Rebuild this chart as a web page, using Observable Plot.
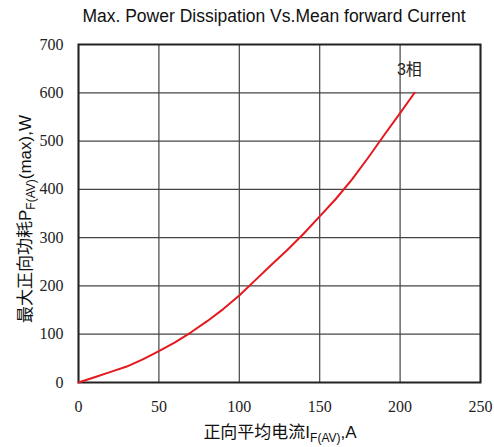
<!DOCTYPE html>
<html>
<head>
<meta charset="utf-8">
<script src="https://cdn.jsdelivr.net/npm/d3@7"></script>
<script src="https://cdn.jsdelivr.net/npm/@observablehq/plot@0.6"></script>
<style>
  html, body { margin: 0; padding: 0; background: #fff; }
  #title {
    width: 494px; box-sizing: border-box; padding-left: 54px;
    height: 34px; line-height: 33px; text-align: center;
    font-family: "Liberation Sans", Arial, sans-serif; font-size: 17.5px; color: #111;
  }
  #chart svg { display: block; }
</style>
</head>
<body>
<div id="title">Max. Power Dissipation Vs.Mean forward Current</div>
<div id="chart"></div>
<script>
// Data
const current = [0, 10, 20, 30, 40, 50, 60, 70, 80, 90, 100, 110, 120, 130, 140, 150, 160, 170, 180, 190, 200, 209];
const power   = [0, 11, 22, 33, 48, 65, 83, 104, 127, 152, 180, 212, 244, 275, 308, 344, 380, 420, 465, 512, 558, 600];
const xTicks = [0, 50, 100, 150, 200, 250];
const yTicks = [0, 100, 200, 300, 400, 500, 600, 700];
const seriesLabel = ["3相"];
const labelX = [198];
const labelY = [648];

const data = current.map((x, i) => ({x, y: power[i]}));
const annot = seriesLabel.map((t, i) => ({t, x: labelX[i], y: labelY[i]}));
const serif = "'Liberation Serif', 'DejaVu Serif', serif";

const chart = Plot.plot({
  width: 494,
  height: 413,
  marginTop: 10,
  marginBottom: 65,
  marginLeft: 78,
  marginRight: 14,
  style: {fontFamily: serif, fontSize: "16px", color: "#222", background: "#fff"},
  x: {domain: [0, 250], label: null},
  y: {domain: [0, 700], label: null},
  marks: [
    Plot.gridX(xTicks, {stroke: "#444", strokeOpacity: 1, strokeWidth: 1.2}),
    Plot.gridY(yTicks, {stroke: "#444", strokeOpacity: 1, strokeWidth: 1.2}),
    Plot.frame({stroke: "#222", strokeWidth: 2}),
    Plot.line(data, {x: "x", y: "y", stroke: "#e3191f", strokeWidth: 2}),
    Plot.text(annot, {x: "x", y: "y", text: "t", textAnchor: "start", lineAnchor: "middle",
      fontFamily: "'Liberation Sans', 'Noto Sans CJK SC', sans-serif", fontSize: 16, fill: "#222"}),
    Plot.axisX(xTicks, {tickSize: 0, tickPadding: 18, label: null, fontSize: 16, fontFamily: serif, fill: "#222"}),
    Plot.axisY(yTicks, {tickSize: 0, tickPadding: 15, label: null, fontSize: 16, fontFamily: serif, fill: "#222"})
  ]
});

document.getElementById("chart").appendChild(chart);

const svg = d3.select(chart);
const labelFont = "'Liberation Sans', 'Noto Sans CJK SC', sans-serif";

const xl = svg.append("text")
  .attr("x", 280).attr("y", 404)
  .attr("text-anchor", "middle")
  .style("font-family", labelFont).style("font-size", "17px").attr("fill", "#111");
xl.append("tspan").text("正向平均电流I");
xl.append("tspan").attr("dy", 4).style("font-size", "12px").text("F(AV)");
xl.append("tspan").attr("dy", -4).text(",A");

const yl = svg.append("text")
  .attr("transform", "translate(31,185) rotate(-90)")
  .attr("text-anchor", "middle")
  .style("font-family", labelFont).style("font-size", "17px").attr("fill", "#111");
yl.append("tspan").text("最大正向功耗P");
yl.append("tspan").attr("dy", 4).style("font-size", "12px").text("F(AV)");
yl.append("tspan").attr("dy", -4).text("(max),W");
</script>
</body>
</html>
